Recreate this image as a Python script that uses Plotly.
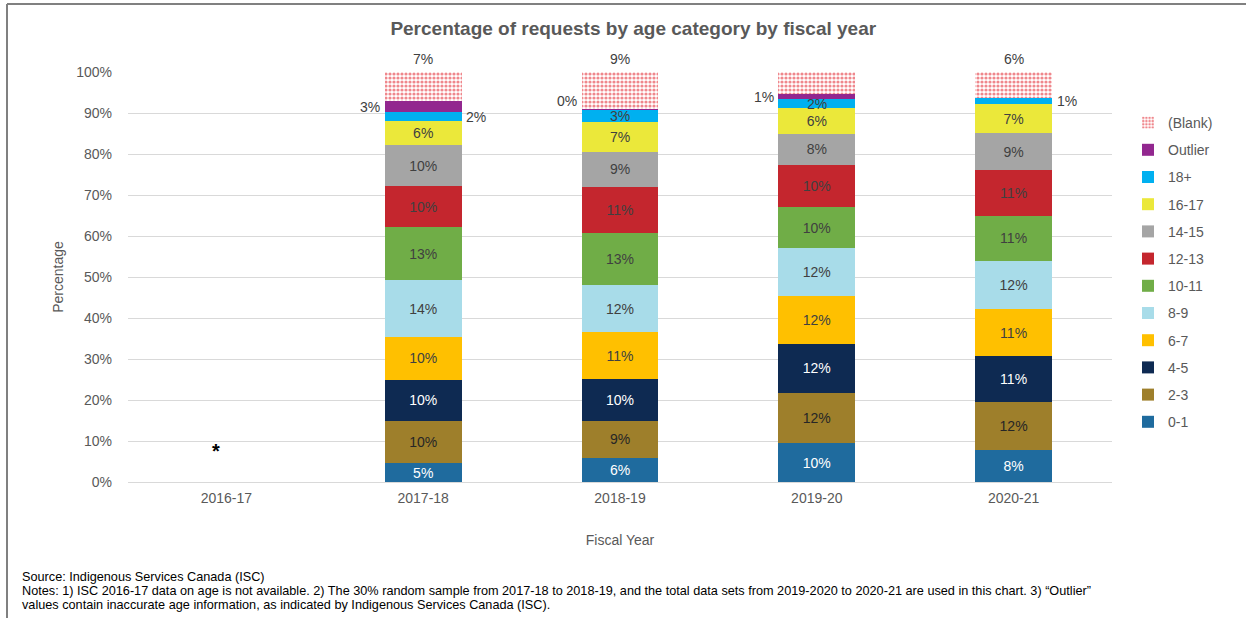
import plotly.graph_objects as go

# ---------------- data ----------------
years = ["2016-17", "2017-18", "2018-19", "2019-20", "2020-21"]
age_0_1 = [None, 4.6, 5.9, 9.5, 7.8]
age_2_3 = [None, 10.4, 9.0, 12.2, 11.7]
age_4_5 = [None, 10.0, 10.2, 12.0, 11.2]
age_6_7 = [None, 10.4, 11.4, 11.7, 11.4]
age_8_9 = [None, 13.8, 11.6, 11.7, 11.7]
age_10_11 = [None, 12.9, 12.7, 9.9, 11.2]
age_12_13 = [None, 10.0, 11.2, 10.4, 11.0]
age_14_15 = [None, 10.0, 8.6, 7.6, 9.1]
age_16_17 = [None, 5.9, 7.1, 6.1, 7.1]
age_18p = [None, 2.2, 3.2, 2.3, 1.4]
outlier = [None, 2.7, 0.1, 1.2, None]
blank = [None, 7.1, 9.0, 5.4, 6.4]

series_names = ["0-1", "2-3", "4-5", "6-7", "8-9", "10-11", "12-13",
                "14-15", "16-17", "18+", "Outlier", "(Blank)"]
series_vals = [age_0_1, age_2_3, age_4_5, age_6_7, age_8_9, age_10_11,
               age_12_13, age_14_15, age_16_17, age_18p, outlier, blank]

source_line = "Source: Indigenous Services Canada (ISC)"
notes_line1 = ("Notes: 1) ISC 2016-17 data on age is not available. 2) The 30% random sample from 2017-18 to 2018-19, "
               "and the total data sets from 2019-2020 to 2020-21 are used in this chart. 3) \u201cOutlier\u201d")
notes_line2 = "values contain inaccurate age information, as indicated by Indigenous Services Canada (ISC)."

# ---------------- styles ----------------
colors = ["#1F6B9E", "#9E7F2B", "#0E2A52", "#FFC000", "#A8DCE9", "#70AD47",
          "#C4262E", "#A5A5A5", "#EBE83A", "#00B0F0", "#92278F", "#FFFFFF"]
text_colors = ["#FFFFFF", "#262626", "#FFFFFF", "#404040", "#404040", "#404040",
               "#404040", "#404040", "#404040", "#404040", "#404040", "#404040"]
side_pos = {
    "18+": [None, "right", "inside", "inside", "right"],
    "Outlier": [None, "left", "left", "left", None],
    "(Blank)": [None, "top", "top", "top", "top"],
}
FONT = "Liberation Sans, Arial, sans-serif"
GRAY = "#595959"

W, H = 1254, 618
ML, MR, MT, MB = 128, 142, 72, 136

fig = go.Figure()
n = len(series_names)
for i, (name, vals) in enumerate(zip(series_names, series_vals)):
    marker = dict(color=colors[i], line=dict(width=0))
    if name == "(Blank)":
        marker = dict(color="#FFFFFF", line=dict(width=0),
                      pattern=dict(shape=".", fgcolor="#E0101A", bgcolor="#FFFFFF",
                                   size=4, solidity=0.5))
    use_text = name not in side_pos
    fig.add_trace(go.Bar(
        x=years, y=vals, name=name, marker=marker,
        legendgroup=name, legendrank=n - i,
        text=[("" if v is None else f"{v:.0f}%") for v in vals] if use_text else None,
        textposition="inside" if use_text else "none",
        insidetextanchor="middle", textangle=0,
        textfont=dict(family=FONT, size=14, color=text_colors[i]),
        hoverinfo="x+y+name",
    ))

annotations = []
for j, yr in enumerate(years):
    cum = 0.0
    for name, vals in zip(series_names, series_vals):
        v = vals[j]
        if v is None:
            continue
        if name in side_pos and side_pos[name][j]:
            pos = side_pos[name][j]
            mid = cum + v / 2
            base = dict(x=yr, y=mid, text=f"{v:.0f}%", showarrow=False,
                        font=dict(family=FONT, size=14, color="#404040"))
            if pos == "right":
                base.update(xanchor="left", yanchor="middle", xshift=41)
            elif pos == "left":
                base.update(xanchor="right", yanchor="middle", xshift=-41,
                            yshift=8 if v < 0.5 else 0)
            elif pos == "inside":
                base.update(xanchor="center", yanchor="middle")
            elif pos == "top":
                base.update(y=cum + v, xanchor="center", yanchor="bottom", yshift=3)
            annotations.append(base)
        cum += v

annotations.append(dict(x=years[0], y=7.5, text="<b>*</b>", showarrow=False,
                        xshift=-10,
                        font=dict(family=FONT, size=20, color="#000000"),
                        xanchor="center", yanchor="middle"))

pw = W - ML - MR
ph = H - MT - MB
def px_x(p):
    return (p - ML) / pw
def px_y(p):
    return (H - MB - p) / ph

for txt, yc in [(source_line, 577), (notes_line1, 591), (notes_line2, 605)]:
    annotations.append(dict(
        xref="paper", yref="paper", x=px_x(20), y=px_y(yc), xanchor="left", yanchor="middle",
        align="left", showarrow=False,
        font=dict(family=FONT, size=12.7, color="#000000"), text=txt))

shapes = [
    dict(type="line", xref="paper", yref="paper", x0=px_x(7), x1=px_x(7),
         y0=px_y(4), y1=px_y(618), line=dict(color="#808080", width=2)),
    dict(type="line", xref="paper", yref="paper", x0=px_x(7), x1=px_x(1246),
         y0=px_y(4), y1=px_y(4), line=dict(color="#808080", width=2)),
]

fig.update_layout(
    width=W, height=H,
    margin=dict(l=ML, r=MR, t=MT, b=MB, autoexpand=False),
    paper_bgcolor="white", plot_bgcolor="white",
    barmode="stack", bargap=0.61,
    uniformtext=dict(minsize=14, mode="show"),
    font=dict(family=FONT, size=14, color=GRAY),
    title=dict(text="<b>Percentage of requests by age category by fiscal year</b>",
               x=0.505, xref="container", y=1 - 28 / H, yref="container",
               xanchor="center", yanchor="middle",
               font=dict(family=FONT, size=19, color=GRAY)),
    xaxis=dict(type="category", categoryorder="array", categoryarray=years,
               showgrid=False, showline=True, linecolor="#D9D9D9", linewidth=1,
               ticks="", ticklabelstandoff=3,
               tickfont=dict(family=FONT, size=14, color=GRAY),
               title=dict(text="Fiscal Year", standoff=30,
                          font=dict(family=FONT, size=14, color=GRAY))),
    yaxis=dict(range=[0, 100], tickvals=list(range(0, 101, 10)),
               ticktext=[f"{v}%" for v in range(0, 101, 10)],
               showgrid=True, gridcolor="#D9D9D9", gridwidth=1,
               zeroline=False, showline=False, ticks="",
               ticklabelstandoff=15,
               tickfont=dict(family=FONT, size=14, color=GRAY),
               title=dict(text="Percentage", standoff=9,
                          font=dict(family=FONT, size=14, color=GRAY))),
    legend=dict(x=px_x(1128), y=px_y(107), xanchor="left", yanchor="top",
                traceorder="grouped", tracegroupgap=6,
                itemwidth=30, font=dict(family=FONT, size=14, color=GRAY),
                bgcolor="rgba(0,0,0,0)"),
    annotations=annotations,
    shapes=shapes,
    showlegend=True,
)

fig.write_html("out.html", config={"displayModeBar": False},
               post_script="document.body.style.margin='0px';")
